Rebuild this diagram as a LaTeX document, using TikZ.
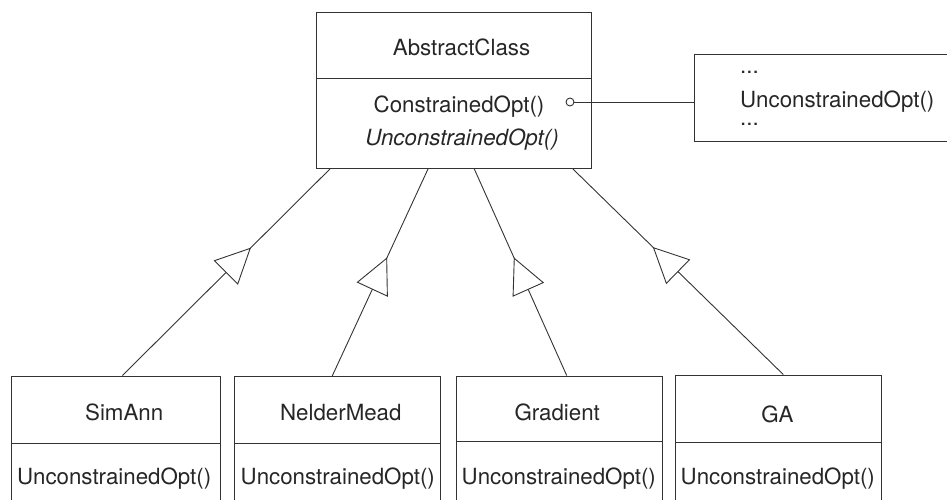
\documentclass[tikz,border=0pt]{standalone}
\usepackage{fontspec}
\setmainfont{TeX Gyre Heros}
\usetikzlibrary{calc,decorations.markings}
\begin{document}
\begin{tikzpicture}[x=1pt,y=-1pt,
  ln/.style={draw=black!80, line width=0.9pt},
  box/.style={ln, rectangle, inner sep=0pt},
  txt/.style={text=black!85, inner sep=0pt, anchor=base, font=\fontsize{22.3}{26}\selectfont},
  inh/.style={ln, postaction={decorate}, decoration={markings,
      mark=at position #1 with {\draw[ln, fill=white] (0pt,0pt) -- (-34pt,16.5pt) -- (-34pt,-16.5pt) -- cycle;}}}
]
\useasboundingbox (0,0) rectangle (947,500);
\clip (0,0) rectangle (947,500);

% abstract class
\node[box, minimum width=275pt, minimum height=156pt] (abs) at (453.5,90.3) {};
\coordinate (d0) at (0,78.3);
\draw[ln] (abs.west |- d0) -- (abs.east |- d0);
\node[txt] (absname) at (461.5,55.3) {AbstractClass};
\node[txt] (absm1) at (459,112.5) {ConstrainedOpt()};
\node[txt] (absm2) at (462,146) {\itshape UnconstrainedOpt()};

% note box
\node[box, minimum width=254pt, minimum height=87.4pt] (rbox) at (821,98) {};
\node[txt, anchor=base west] (r1) at (740,73.5) {...};
\node[txt, anchor=base west] (r2) at (740,108) {UnconstrainedOpt()};
\node[txt, anchor=base west] (r3) at (740,125.5) {...};
\node[ln, circle, minimum size=8pt, inner sep=0pt] (circ) at (570,102) {};
\draw[ln] (circ.east) -- (circ -| rbox.west);

% subclasses
\node[box, minimum width=209pt, minimum height=144pt] (simann) at (115.5,448) {};
\coordinate (d1) at (0,443.3);
\draw[ln] (simann.west |- d1) -- (simann.east |- d1);
\node[txt] (simannname) at (124.2,420.7) {SimAnn};
\node[txt] (simannm) at (114.2,484.3) {UnconstrainedOpt()};

\node[box, minimum width=205.3pt, minimum height=143.5pt] (nm) at (337.35,448.25) {};
\coordinate (d2) at (0,443.3);
\draw[ln] (nm.west |- d2) -- (nm.east |- d2);
\node[txt] (nmname) at (340.8,420.7) {NelderMead};
\node[txt] (nmm) at (337.8,484.3) {UnconstrainedOpt()};

\node[box, minimum width=205.6pt, minimum height=144pt] (grad) at (559.5,448) {};
\coordinate (d3) at (0,441);
\draw[ln] (grad.west |- d3) -- (grad.east |- d3);
\node[txt] (gradname) at (557.2,420.3) {Gradient};
\node[txt] (gradm) at (558.8,484.3) {UnconstrainedOpt()};

\node[box, minimum width=205.3pt, minimum height=145pt] (ga) at (778.35,447.5) {};
\coordinate (d4) at (0,442.3);
\draw[ln] (ga.west |- d4) -- (ga.east |- d4);
\node[txt] (ganame) at (777.5,422.3) {GA};
\node[txt] (gam) at (777.8,484.3) {UnconstrainedOpt()};

% inheritance connectors
\draw[inh=0.615] ($(simann.north west)!0.533!(simann.north east)$) -- ($(abs.south west)!0.053!(abs.south east)$);
\draw[inh=0.568] ($(nm.north west)!0.475!(nm.north east)$) -- ($(abs.south west)!0.408!(abs.south east)$);
\draw[inh=0.567] ($(grad.north west)!0.535!(grad.north east)$) -- ($(abs.south west)!0.575!(abs.south east)$);
\draw[inh=0.616] ($(ga.north west)!0.524!(ga.north east)$) -- ($(abs.south west)!0.932!(abs.south east)$);
\end{tikzpicture}
\end{document}
